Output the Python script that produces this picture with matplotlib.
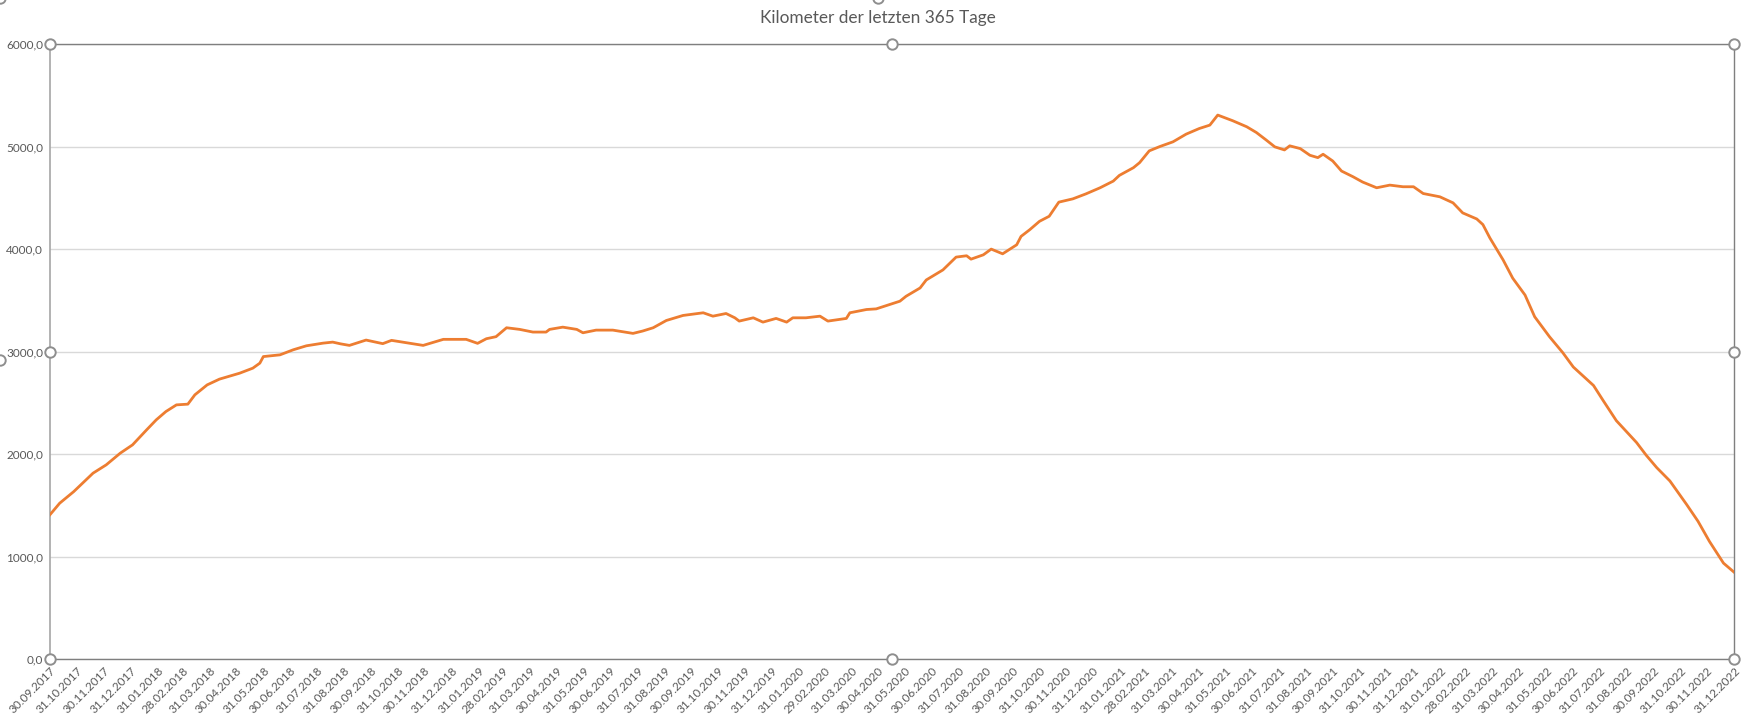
import pandas as pd
import matplotlib
matplotlib.use('Agg')
import matplotlib.pyplot as plt
from matplotlib.lines import Line2D
from matplotlib.ticker import FuncFormatter

# gleitende Jahressumme
datum = ['30.09.2017', '11.10.2017', '27.10.2017', '18.11.2017', '03.12.2017', '19.12.2017',
         '02.01.2018', '18.01.2018', '29.01.2018', '09.02.2018', '21.02.2018', '06.03.2018',
         '14.03.2018', '28.03.2018', '11.04.2018', '04.05.2018', '19.05.2018', '27.05.2018',
         '31.05.2018', '19.06.2018', '04.07.2018', '19.07.2018', '07.08.2018', '18.08.2018',
         '27.08.2018', '06.09.2018', '25.09.2018', '14.10.2018', '24.10.2018', '10.11.2018',
         '29.11.2018', '22.12.2018', '17.01.2019', '30.01.2019', '09.02.2019', '20.02.2019',
         '04.03.2019', '19.03.2019', '03.04.2019', '18.04.2019', '22.04.2019', '07.05.2019',
         '23.05.2019', '30.05.2019', '14.06.2019', '03.07.2019', '22.07.2019', '26.07.2019',
         '06.08.2019', '18.08.2019', '02.09.2019', '21.09.2019', '14.10.2019', '25.10.2019',
         '09.11.2019', '19.11.2019', '24.11.2019', '10.12.2019', '21.12.2019', '05.01.2020',
         '17.01.2020', '24.01.2020', '08.02.2020', '24.02.2020', '04.03.2020', '25.03.2020',
         '29.03.2020', '17.04.2020', '28.04.2020', '10.05.2020', '25.05.2020', '01.06.2020',
         '17.06.2020', '24.06.2020', '13.07.2020', '28.07.2020', '09.08.2020', '14.08.2020',
         '28.08.2020', '06.09.2020', '19.09.2020', '05.10.2020', '10.10.2020', '20.10.2020',
         '31.10.2020', '11.11.2020', '22.11.2020', '08.12.2020', '23.12.2020', '08.01.2021',
         '23.01.2021', '30.01.2021', '15.02.2021', '22.02.2021', '05.03.2021', '17.03.2021',
         '01.04.2021', '16.04.2021', '01.05.2021', '13.05.2021', '22.05.2021', '08.06.2021',
         '24.06.2021', '05.07.2021', '16.07.2021', '26.07.2021', '06.08.2021', '12.08.2021',
         '24.08.2021', '04.09.2021', '13.09.2021', '19.09.2021', '30.09.2021', '10.10.2021',
         '23.10.2021', '03.11.2021', '19.11.2021', '04.12.2021', '19.12.2021', '31.12.2021',
         '11.01.2022', '30.01.2022', '14.02.2022', '25.02.2022', '13.03.2022', '20.03.2022',
         '28.03.2022', '12.04.2022', '23.04.2022', '07.05.2022', '18.05.2022', '04.06.2022',
         '19.06.2022', '01.07.2022', '24.07.2022', '04.08.2022', '19.08.2022', '11.09.2022',
         '22.09.2022', '04.10.2022', '19.10.2022', '07.11.2022', '20.11.2022', '03.12.2022',
         '19.12.2022', '31.12.2022']
km = [1410, 1522, 1635, 1815, 1896, 2010,
      2091, 2237, 2335, 2416, 2481, 2488,
      2579, 2676, 2732, 2790, 2839, 2888,
      2952, 2969, 3018, 3057, 3083, 3093,
      3076, 3061, 3113, 3078, 3110, 3087,
      3061, 3120, 3120, 3081, 3126, 3146,
      3233, 3217, 3191, 3191, 3217, 3239,
      3217, 3184, 3210, 3210, 3184, 3178,
      3201, 3233, 3304, 3353, 3379, 3346,
      3372, 3330, 3298, 3330, 3288, 3324,
      3288, 3330, 3330, 3346, 3298, 3324,
      3379, 3411, 3417, 3450, 3492, 3540,
      3621, 3699, 3797, 3922, 3935, 3902,
      3944, 4000, 3954, 4042, 4124, 4190,
      4271, 4320, 4458, 4490, 4539, 4598,
      4663, 4719, 4794, 4843, 4958, 5000,
      5046, 5121, 5176, 5209, 5307, 5252,
      5193, 5137, 5065, 4997, 4967, 5007,
      4980, 4915, 4892, 4925, 4859, 4761,
      4706, 4654, 4598, 4624, 4608, 4608,
      4542, 4510, 4451, 4353, 4294, 4239,
      4108, 3895, 3716, 3552, 3340, 3144,
      2990, 2850, 2670, 2523, 2327, 2114,
      1990, 1869, 1739, 1510, 1346, 1150,
      938, 850]

x = pd.to_datetime(datum, format='%d.%m.%Y')
monatsenden = pd.date_range('2017-09-30', '2022-12-31', freq='ME')

grau = '#595959'
plt.rcParams['font.family'] = ['Lato', 'DejaVu Sans']

fig = plt.figure(figsize=(17.52, 7.18), dpi=100)
ax = fig.add_axes([50/1752, 1 - 659.3/718, 1684/1752, 615.3/718])

ax.plot(x, km, color='#ED7D31', linewidth=2.0, solid_joinstyle='round', zorder=3)

ax.set_xlim(monatsenden[0], monatsenden[-1])
ax.set_ylim(0, 6000)
ax.set_yticks(range(0, 6001, 1000))
ax.yaxis.set_major_formatter(FuncFormatter(lambda v, p: f'{v:.1f}'.replace('.', ',')))
ax.set_xticks(monatsenden)
ax.set_xticklabels([d.strftime('%d.%m.%Y') for d in monatsenden],
                   rotation=45, ha='right', va='top', rotation_mode='anchor')
ax.tick_params(axis='both', length=0, labelsize=8.5, labelcolor=grau)
ax.tick_params(axis='x', pad=4)
ax.tick_params(axis='y', pad=5)
ax.grid(axis='y', color='#D9D9D9', linewidth=1.0)
ax.set_axisbelow(True)

for s in ['top', 'right', 'bottom']:
    ax.spines[s].set_color('#7F7F7F')
    ax.spines[s].set_linewidth(1.0)
ax.spines['left'].set_color('#A6A6A6')
ax.spines['left'].set_linewidth(1.2)

# Titel sitzt mittig im Diagrammbereich, nicht ueber der Zeichenflaeche
fig.text(878/1752, 1 - 18/718, 'Kilometer der letzten 365 Tage',
         ha='center', va='center', fontsize=12.4, color=grau)

# Markierungspunkte der Auswahl
hx = [0, 0.5, 1, 0, 1, 0, 0.5, 1]
hy = [0, 0, 0, 0.5, 0.5, 1, 1, 1]
ax.plot(hx, hy, linestyle='none', marker='o', markersize=7.5, markerfacecolor='white',
        markeredgecolor='#8E8E8E', markeredgewidth=1.4, transform=ax.transAxes,
        clip_on=False, zorder=10)
fig.add_artist(Line2D([878/1752, 0, 0], [1 + 2/718, 1 - 360/718, 1 + 2/718],
                      linestyle='none', marker='o', markersize=7.5, markerfacecolor='white',
                      markeredgecolor='#8E8E8E', markeredgewidth=1.4,
                      transform=fig.transFigure))

fig.savefig('out.png', dpi=100)
